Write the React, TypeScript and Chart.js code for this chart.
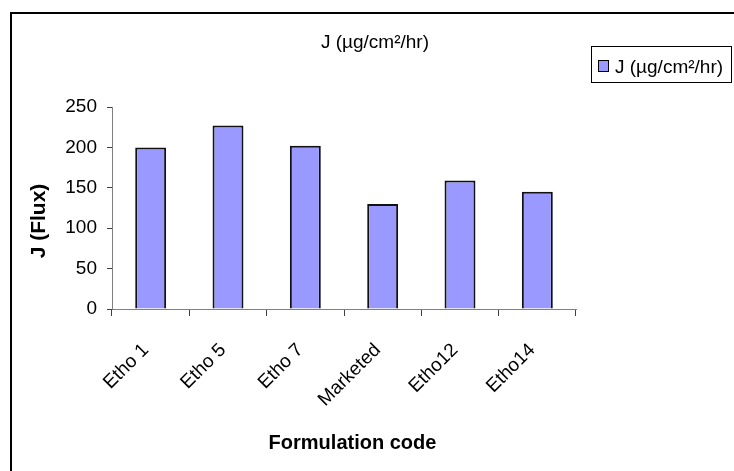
import React, { useEffect, useRef } from 'react';
import { Chart, registerables } from 'chart.js';

Chart.register(...registerables);

// ---- data ----
const categories = ['Etho 1', 'Etho 5', 'Etho 7', 'Marketed', 'Etho12', 'Etho14'];
const fluxValues = [200, 227, 202, 130, 159, 145];
const seriesLabel = 'J (µg/cm²/hr)';
const chartTitle = 'J (µg/cm²/hr)';
const yAxisTitle = 'J (Flux)';
const xAxisTitle = 'Formulation code';
const yMin = 0;
const yMax = 250;
const yStep = 50;

const FONT = '"Liberation Sans", Arial, Helvetica, sans-serif';
const BAR_FILL = '#9999FF';
const W = 734;
const H = 471;

const decorPlugin = {
  id: 'decor',
  afterDraw(chart: any) {
    const ctx = chart.ctx as CanvasRenderingContext2D;
    ctx.save();
    // outer frame (left and top edges visible)
    ctx.strokeStyle = '#000';
    ctx.lineWidth = 2;
    ctx.beginPath();
    ctx.moveTo(11, H);
    ctx.lineTo(11, 13);
    ctx.lineTo(W, 13);
    ctx.stroke();

    // chart title
    ctx.fillStyle = '#000';
    ctx.font = `19px ${FONT}`;
    ctx.textAlign = 'center';
    ctx.textBaseline = 'alphabetic';
    ctx.fillText(chartTitle, 375, 47.5);

    // legend
    const ds = chart.data.datasets[0];
    ctx.lineWidth = 1;
    ctx.strokeStyle = '#000';
    ctx.strokeRect(591.5, 46.5, 140, 36);
    ctx.fillStyle = ds.backgroundColor;
    ctx.fillRect(598.5, 60.5, 10, 11);
    ctx.strokeRect(598.5, 60.5, 10, 11);
    ctx.fillStyle = '#000';
    ctx.textAlign = 'left';
    ctx.font = `19px ${FONT}`;
    ctx.fillText(ds.label, 615, 72.7);

    // y axis title
    ctx.save();
    ctx.translate(45, 221);
    ctx.rotate(-Math.PI / 2);
    ctx.textAlign = 'center';
    ctx.font = `bold 21px ${FONT}`;
    ctx.fillText(yAxisTitle, 0, 0);
    ctx.restore();

    // x axis title
    ctx.textAlign = 'center';
    ctx.font = `bold 20px ${FONT}`;
    ctx.fillText(xAxisTitle, 352.5, 449);
    ctx.restore();
  },
};

export default function App() {
  const ref = useRef<HTMLCanvasElement | null>(null);

  useEffect(() => {
    if (!ref.current) return;
    const chart = new Chart(ref.current, {
      type: 'bar',
      data: {
        labels: categories,
        datasets: [
          {
            label: seriesLabel,
            data: fluxValues,
            backgroundColor: BAR_FILL,
            borderColor: '#111',
            borderWidth: 2,
            barPercentage: 0.4,
            categoryPercentage: 1.0,
          },
        ],
      },
      options: {
        animation: false,
        responsive: false,
        devicePixelRatio: 1,
        layout: { padding: { left: 0, top: 107, right: 158, bottom: 0 } },
        plugins: {
          legend: { display: false },
          title: { display: false },
          tooltip: { enabled: false },
        },
        scales: {
          x: {
            grid: {
              offset: true,
              drawOnChartArea: false,
              drawTicks: true,
              tickLength: 7,
              color: '#404040',
            },
            border: { color: '#808080', width: 1 },
            ticks: {
              minRotation: 45,
              maxRotation: 45,
              autoSkip: false,
              padding: 23,
              labelOffset: -5,
              color: '#000',
              font: { family: FONT, size: 19 },
            },
            afterFit: (scale: any) => {
              scale.height = H - 309;
            },
          },
          y: {
            min: yMin,
            max: yMax,
            grid: {
              drawOnChartArea: false,
              drawTicks: true,
              tickLength: 5,
              color: '#404040',
            },
            border: { color: '#808080', width: 1 },
            ticks: {
              stepSize: yStep,
              padding: 10,
              color: '#000',
              font: { family: FONT, size: 19 },
            },
            afterFit: (scale: any) => {
              scale.width = 112;
            },
          },
        },
      },
      plugins: [decorPlugin],
    });
    return () => chart.destroy();
  }, []);

  return (
    <div style={{ position: 'fixed', left: 0, top: 0, width: W, height: H, background: '#fff' }}>
      <canvas ref={ref} width={W} height={H} style={{ width: W, height: H, display: 'block' }} />
    </div>
  );
}
